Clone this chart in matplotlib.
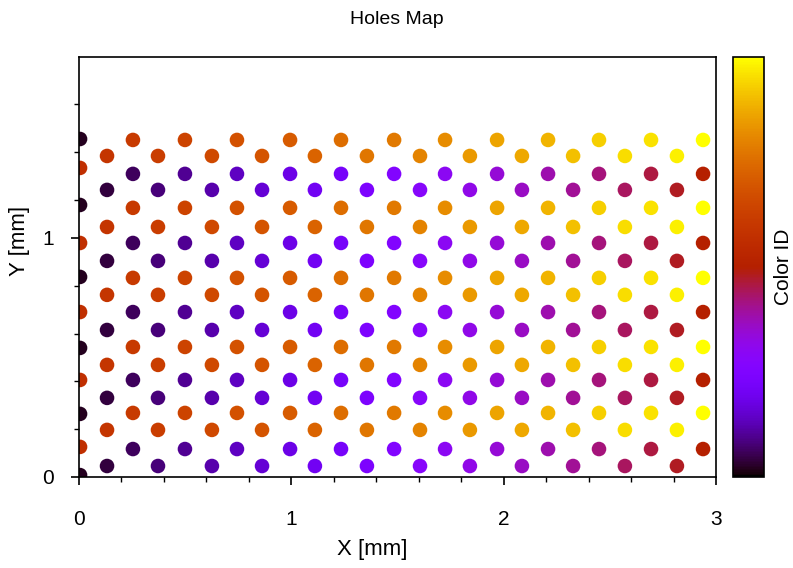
import matplotlib
matplotlib.use('Agg')
import matplotlib.pyplot as plt
from matplotlib.ticker import FixedLocator

# ---- data (mm) ----
# x position of each hole column, left to right (25 columns)
col_x = [0.005, 0.132, 0.254, 0.372, 0.499, 0.626, 0.744, 0.862, 0.994,
         1.111, 1.234, 1.356, 1.484, 1.606, 1.724, 1.841, 1.969, 2.086,
         2.209, 2.327, 2.449, 2.571, 2.694, 2.816, 2.939]

# hole centres (y) in the first column, and which family each belongs to
rows_first = [1.414, 1.293, 1.138, 0.979, 0.837, 0.690, 0.540, 0.406, 0.264, 0.126, 0.008]
fam_first = ['B', 'A', 'B', 'A', 'B', 'A', 'B', 'A', 'B', 'A', 'B']

# hole centres (y) in the other even columns
rows_even = [1.410, 1.268, 1.126, 0.979, 0.833, 0.690, 0.544, 0.406, 0.268, 0.117]
fam_even = ['A', 'B', 'A', 'B', 'A', 'B', 'A', 'B', 'A', 'B']

# hole centres (y) in the odd columns
rows_odd = [1.343, 1.201, 1.046, 0.904, 0.762, 0.615, 0.469, 0.331, 0.197, 0.046]
fam_odd = ['A', 'B', 'A', 'B', 'A', 'B', 'A', 'B', 'A', 'B']

# colour ID of each family, per column
id_A = [0.57, 0.59, 0.61, 0.62, 0.64, 0.66, 0.68, 0.69, 0.71, 0.73, 0.75, 0.77, 0.78,
        0.80, 0.82, 0.84, 0.86, 0.87, 0.89, 0.91, 0.93, 0.95, 0.96, 0.98, 1.00]
id_B = [0.02, 0.04, 0.06, 0.08, 0.10, 0.12, 0.14, 0.16, 0.18, 0.20, 0.22, 0.24, 0.26,
        0.28, 0.30, 0.32, 0.34, 0.36, 0.38, 0.40, 0.42, 0.44, 0.46, 0.48, 0.50]

x_major = [0, 1, 2, 3]
x_minor = [0.2, 0.4, 0.6, 0.8, 1.2, 1.4, 1.6, 1.8, 2.2, 2.4, 2.6, 2.8]
y_major = [0, 1]
y_minor = [0.2, 0.4, 0.6, 0.8, 1.16, 1.36, 1.56]

# ---- assemble holes ----
xs, ys, cs = [], [], []
for i, cx in enumerate(col_x):
    if i == 0:
        rows, fams = rows_first, fam_first
    elif i % 2 == 0:
        rows, fams = rows_even, fam_even
    else:
        rows, fams = rows_odd, fam_odd
    for ry, f in zip(rows, fams):
        xs.append(cx)
        ys.append(ry)
        cs.append(id_A[i] if f == 'A' else id_B[i])

plt.rcParams['font.family'] = ['Liberation Sans', 'DejaVu Sans']

fig = plt.figure(figsize=(7.93, 5.68), dpi=100)
ax = fig.add_axes([79/793, (568-477)/568, (716-79)/793, (477-57)/568])
cax = fig.add_axes([733/793, (568-477)/568, (764-733)/793, (477-57)/568])

sc = ax.scatter(xs, ys, c=cs, cmap='gnuplot', vmin=0, vmax=1, s=110,
                marker='o', linewidths=0)
ax.set_xlim(0, 3)
ax.set_ylim(0, 1.757)

ax.xaxis.set_major_locator(FixedLocator(x_major))
ax.xaxis.set_minor_locator(FixedLocator(x_minor))
ax.yaxis.set_major_locator(FixedLocator(y_major))
ax.yaxis.set_minor_locator(FixedLocator(y_minor))
ax.set_xticklabels([str(v) for v in x_major])
ax.set_yticklabels([str(v) for v in y_major])
ax.tick_params(axis='both', which='major', direction='out', length=6, width=1.2,
               labelsize=15, color='black')
ax.tick_params(axis='both', which='minor', direction='out', length=3.5, width=1.0)
ax.tick_params(axis='x', which='major', pad=18)
ax.tick_params(axis='y', which='major', pad=12)
for sp in ax.spines.values():
    sp.set_linewidth(1.2)

ax.set_xlabel('X [mm]', fontsize=16)
ax.set_ylabel('Y [mm]', fontsize=16)
ax.xaxis.set_label_coords((372 - 79) / 637, -(550 - 477) / 420, transform=ax.transAxes)
ax.yaxis.set_label_coords(-(79 - 20) / 637, (477 - 241) / 420, transform=ax.transAxes)
ax.xaxis.label.set_va('center')
ax.yaxis.label.set_va('center')
fig.text(0.5, 1 - 20/568, 'Holes Map', ha='center', va='center', fontsize=14)

cb = fig.colorbar(sc, cax=cax)
cb.set_ticks([])
cb.outline.set_linewidth(1.2)
cb.set_label('Color ID', fontsize=15, labelpad=7)

fig.savefig('out.png', dpi=100)
